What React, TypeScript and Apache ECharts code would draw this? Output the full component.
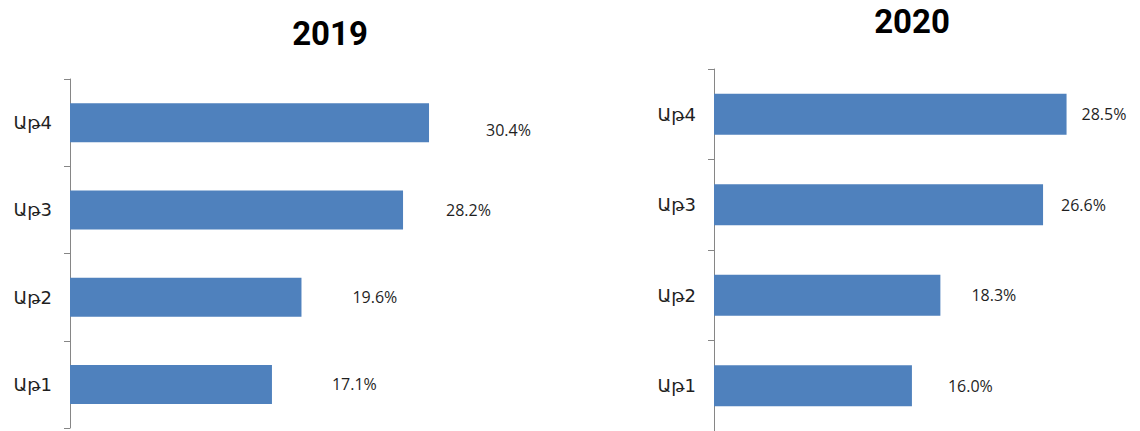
import React, { useEffect, useRef } from "react";
import * as echarts from "echarts";

const categories = ["Աթ1", "Աթ2", "Աթ3", "Աթ4"];
const values2019 = [17.1, 19.6, 28.2, 30.4];
const values2020 = [16.0, 18.3, 26.6, 28.5];
const titles = ["2019", "2020"];

// label gaps (px) from bar end, styling only
const gap2019 = [60, 51, 43, 57];
const gap2020 = [36, 31, 18, 15];
const yShift2019 = [0, 0, 0, 7];

const BAR = "#4F81BD";
const TXT = "#1f1f1f";

export default function App() {
  const ref = useRef<HTMLDivElement>(null);
  useEffect(() => {
    document.body.style.margin = "0";
    const chart = echarts.init(ref.current!, undefined, { renderer: "svg" });
    const mkData = (vals: number[], gaps: number[], shifts: number[]) =>
      vals.map((v, i) => ({
        value: v,
        label: { distance: gaps[i], offset: [0, shifts[i] || 0] },
      }));
    const yAxisBase = {
      type: "category" as const,
      data: categories,
      axisLine: { show: true, lineStyle: { color: "#868686", width: 1 } },
      axisTick: { show: true, length: 6, inside: false, lineStyle: { color: "#868686", width: 1 } },
      axisLabel: {
        color: TXT,
        fontFamily: "'DejaVu Sans', sans-serif",
        fontSize: 18,
        margin: 18,
      },
    };
    const xAxisBase = {
      type: "value" as const,
      min: 0,
      show: false,
      splitLine: { show: false },
    };
    const labelBase = {
      show: true,
      position: "right" as const,
      color: TXT,
      fontFamily: "'Open Sans', sans-serif",
      fontSize: 16,
      formatter: (p: any) => Number(p.value).toFixed(1) + "%",
    };
    chart.setOption({
      animation: false,
      title: [
        {
          text: titles[0],
          left: 325,
          top: 12,
          textAlign: "center",
          textStyle: { fontFamily: "Roboto, sans-serif", fontWeight: "bold", fontSize: 33, color: "#000" },
        },
        {
          text: titles[1],
          left: 907,
          top: 0,
          textAlign: "center",
          textStyle: { fontFamily: "Roboto, sans-serif", fontWeight: "bold", fontSize: 33, color: "#000" },
        },
      ],
      grid: [
        { left: 70, top: 79, width: 472.4, height: 349 },
        { left: 714, top: 69, width: 420.6, height: 362 },
      ],
      xAxis: [
        { ...xAxisBase, gridIndex: 0, max: 40 },
        { ...xAxisBase, gridIndex: 1, max: 34 },
      ],
      yAxis: [
        { ...yAxisBase, gridIndex: 0 },
        { ...yAxisBase, gridIndex: 1 },
      ],
      series: [
        {
          type: "bar",
          xAxisIndex: 0,
          yAxisIndex: 0,
          barWidth: 39,
          itemStyle: { color: BAR },
          label: labelBase,
          data: mkData(values2019, gap2019, yShift2019),
        },
        {
          type: "bar",
          xAxisIndex: 1,
          yAxisIndex: 1,
          barWidth: 41,
          itemStyle: { color: BAR },
          label: labelBase,
          data: mkData(values2020, gap2020, [0, 0, 0, 0]),
        },
      ],
    });
    return () => chart.dispose();
  }, []);
  return (
    <div
      ref={ref}
      style={{ position: "absolute", left: 0, top: 0, width: 1140, height: 431 }}
    />
  );
}
